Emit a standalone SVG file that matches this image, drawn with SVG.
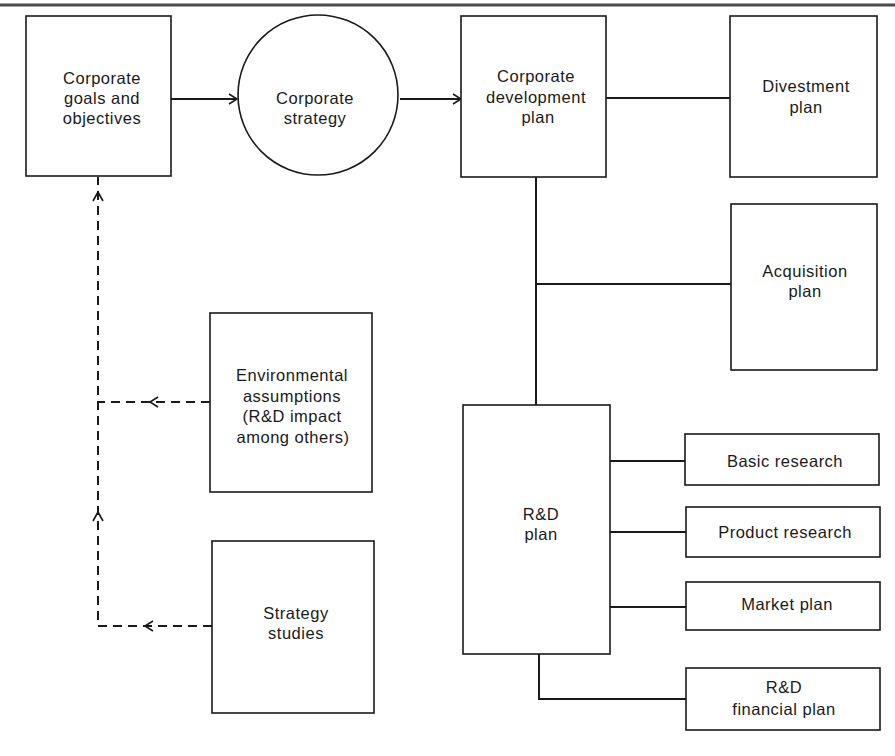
<svg xmlns="http://www.w3.org/2000/svg" width="895" height="756" viewBox="0 0 895 756">
<style>
.box{fill:#fff;stroke:#1a1a1a;stroke-width:1.6}
.t{font-family:"Liberation Sans",Arial,sans-serif;font-size:16.5px;letter-spacing:0.5px;fill:#1a1a1a;text-anchor:middle}
.ln{fill:none;stroke:#1a1a1a;stroke-width:2}
.ds{fill:none;stroke:#1a1a1a;stroke-width:2;stroke-dasharray:9 6}
.ah{fill:none;stroke:#1a1a1a;stroke-width:1.6}
</style>
<defs>
<marker id="arr" markerWidth="12" markerHeight="12" refX="10" refY="6" orient="auto" markerUnits="userSpaceOnUse">
<path d="M2,1 L10,6 L2,11" fill="none" stroke="#1a1a1a" stroke-width="1.6"/>
</marker>
</defs>
<rect width="895" height="756" fill="#fff"/>
<line x1="0" y1="5" x2="895" y2="5" stroke="#4a4a4a" stroke-width="2.8"/>

<g id="connectors">
<line class="ln" x1="171" y1="99" x2="237" y2="99" marker-end="url(#arr)"/>
<line class="ln" x1="400" y1="99" x2="461" y2="99" marker-end="url(#arr)"/>
<line class="ln" x1="606" y1="98" x2="730" y2="98"/>
<line class="ln" x1="536" y1="177" x2="536" y2="405"/>
<line class="ln" x1="536" y1="284" x2="731" y2="284"/>
<line class="ln" x1="610" y1="461" x2="685" y2="461"/>
<line class="ln" x1="610" y1="532" x2="686" y2="532"/>
<line class="ln" x1="610" y1="607" x2="686" y2="607"/>
<polyline class="ln" points="539,654 539,699 686,699"/>
<polyline class="ds" points="210,402 98,402"/>
<polyline class="ds" points="212,626 98,626 98,177"/>
<path class="ah" d="M158,397 L150,402 L158,407"/>
<path class="ah" d="M153,621 L145,626 L153,631"/>
<path class="ah" d="M93,201 L98,192 L103,201"/>
<path class="ah" d="M93,521 L98,512 L103,521"/>
</g>

<g id="goals">
<rect class="box" x="26" y="16" width="145" height="160"/>
<text class="t" x="102" y="84">Corporate</text>
<text class="t" x="102" y="104">goals and</text>
<text class="t" x="102" y="124">objectives</text>
</g>

<g id="strategy">
<circle class="box" cx="318" cy="95" r="80"/>
<text class="t" x="315" y="104">Corporate</text>
<text class="t" x="315" y="124">strategy</text>
</g>

<g id="cdp">
<rect class="box" x="461" y="16" width="145" height="161"/>
<text class="t" x="536" y="82">Corporate</text>
<text class="t" x="536" y="103">development</text>
<text class="t" x="538" y="123">plan</text>
</g>

<g id="divestment">
<rect class="box" x="730" y="16" width="147" height="161"/>
<text class="t" x="806" y="92">Divestment</text>
<text class="t" x="806" y="113">plan</text>
</g>

<g id="acquisition">
<rect class="box" x="731" y="204" width="146" height="166"/>
<text class="t" x="805" y="277">Acquisition</text>
<text class="t" x="805" y="297">plan</text>
</g>

<g id="environment">
<rect class="box" x="210" y="313" width="162" height="179"/>
<text class="t" x="292" y="381">Environmental</text>
<text class="t" x="292" y="402">assumptions</text>
<text class="t" x="292" y="422">(R&amp;D impact</text>
<text class="t" x="293" y="443">among others)</text>
</g>

<g id="studies">
<rect class="box" x="212" y="541" width="162" height="172"/>
<text class="t" x="296" y="619">Strategy</text>
<text class="t" x="296" y="639">studies</text>
</g>

<g id="rdplan">
<rect class="box" x="463" y="405" width="147" height="249"/>
<text class="t" x="541" y="520">R&amp;D</text>
<text class="t" x="541" y="540">plan</text>
</g>

<g id="basic">
<rect class="box" x="685" y="434" width="194" height="51"/>
<text class="t" x="785" y="467">Basic research</text>
</g>

<g id="product">
<rect class="box" x="686" y="507" width="194" height="50"/>
<text class="t" x="785" y="538">Product research</text>
</g>

<g id="market">
<rect class="box" x="686" y="582" width="194" height="48"/>
<text class="t" x="787" y="610">Market plan</text>
</g>

<g id="financial">
<rect class="box" x="686" y="668" width="194" height="62"/>
<text class="t" x="784" y="693">R&amp;D</text>
<text class="t" x="784" y="715">financial plan</text>
</g>
</svg>
